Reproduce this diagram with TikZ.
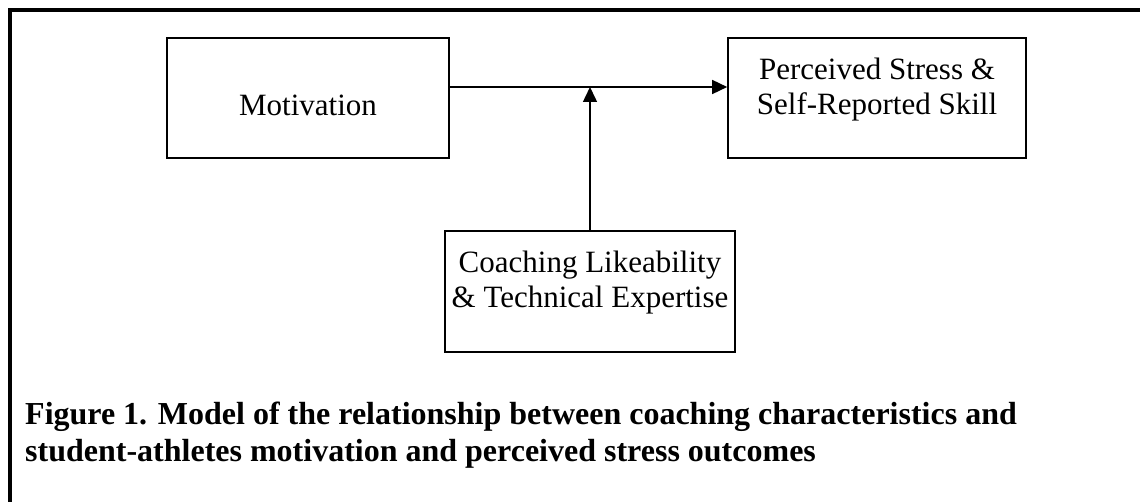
\documentclass[tikz,border=0pt]{standalone}
\usepackage{fontspec}
\setmainfont{Liberation Serif}
\usetikzlibrary{arrows.meta}

\begin{document}
\begin{tikzpicture}[x=1pt, y=-1pt]
			% Define styles for the boxes, arrows and caption
			\tikzstyle{box} = [draw, line width=1.6pt, inner sep=0pt, align=center, font=\fontsize{31}{35}\selectfont]
			\tikzstyle{arr} = [line width=1.5pt, -{Triangle[length=15pt, width=14pt]}]
			\tikzstyle{caption} = [anchor=north west, inner sep=0pt, align=left, font=\fontsize{32}{37}\selectfont\bfseries]

			\useasboundingbox (0,0) rectangle (1140,502);

			% Outer frame (top and left edges only)
			\draw[line width=4pt] (10,520) -- (10,10) -- (1160,10);

			% Define the boxes with positions
			\node[box, minimum width=282pt, minimum height=120pt, text height=36pt, text depth=0pt] (mot) at (308,98) {Motivation};
			\node[box, minimum width=298pt, minimum height=120pt, text depth=23pt] (stress) at (877,98) {Perceived Stress \&\\Self-Reported Skill};
			\node[box, minimum width=290pt, minimum height=121pt, text depth=25pt] (coach) at (590,291.5) {Coaching Likeability\\\& Technical Expertise};

			% Junction on the main path
			\coordinate (mid) at (590,87);

			% Draw the arrows
			\draw[arr] (mot.east |- mid) -- (stress.west |- mid);
			\draw[arr] (coach.north -| mid) -- (mid);

			% Place the caption
			\node[caption] (cap) at (25,402) {Figure 1. Model of the relationship between coaching characteristics and\\student-athletes motivation and perceived stress outcomes};

		\end{tikzpicture}
\end{document}
